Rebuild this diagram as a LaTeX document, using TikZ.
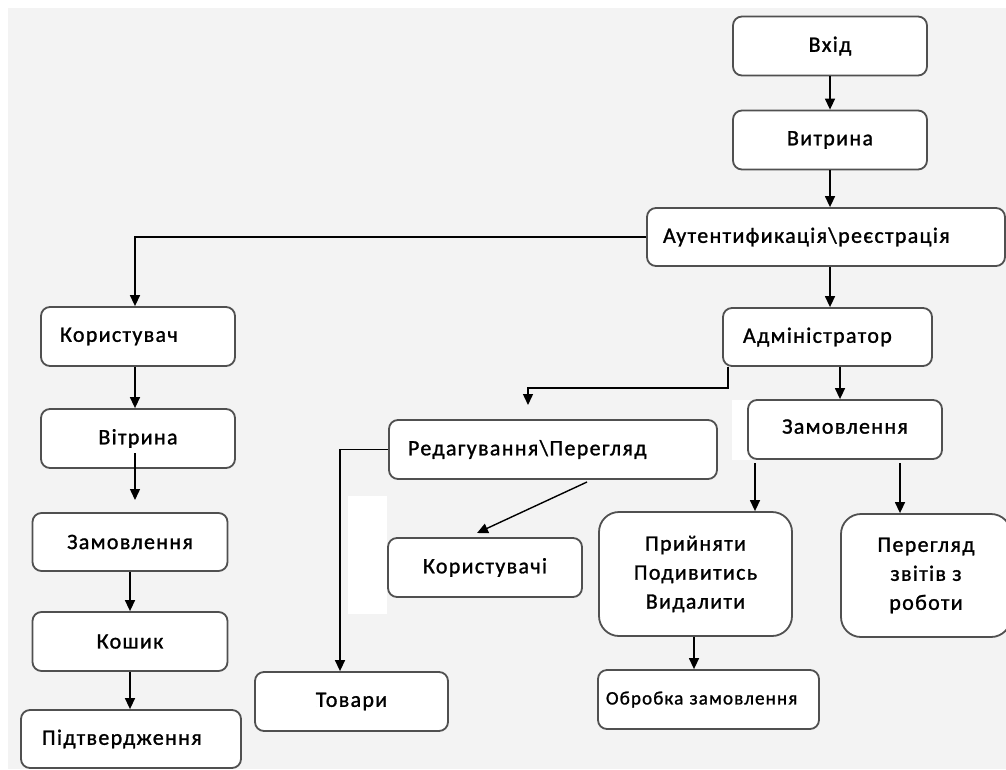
\documentclass[tikz,border=0pt]{standalone}
\usepackage{fontspec}
\setmainfont{Carlito}[LetterSpace=6, FakeBold=1.2]
\usetikzlibrary{arrows.meta}
\definecolor{bggray}{HTML}{F3F3F3}
\definecolor{boxline}{HTML}{505050}
\begin{document}
\begin{tikzpicture}[x=1pt,y=-1pt,
  box/.style={draw=boxline, line width=1.8pt, rounded corners=9pt, fill=white,
    inner sep=0pt, minimum height=59pt, font=\fontsize{22}{29}\selectfont, text=black},
  bigbox/.style={box, rounded corners=20pt},
  arr/.style={draw=black, line width=1.4pt, -{Triangle[width=10pt,length=11pt]}},
  patch/.style={fill=white, draw=none}]
\useasboundingbox (0,0) rectangle (1006,769);
\fill[white] (0,0) rectangle (1006,769);
\fill[bggray] (8,8) rectangle (1006,769);
% white patches
\fill[patch] (348,496) rectangle (387,614);
\fill[patch] (732,400) rectangle (750,460);

% top chain
\node[box, minimum width=194pt] (vhid) at (830,46) {Вхід};
\node[box, minimum width=194pt] (vitr) at (830,140) {Витрина};
\node[box, minimum width=358pt, text width=326pt, inner xsep=16pt, align=left, minimum height=58pt] (auth) at (826,237) {Аутентификація\textbackslash реєстрація};

% user branch
\node[box, minimum width=194pt, text width=156pt, inner xsep=19pt, align=left] (kor) at (138,336.5) {Користувач};
\node[box, minimum width=194pt] (vitrL) at (138,438.5) {Вітрина};
\node[box, minimum width=195pt, minimum height=58pt] (zamL) at (130,542) {Замовлення};
\node[box, minimum width=195pt] (kosh) at (130,641.5) {Кошик};
\node[box, minimum width=220pt, text width=178pt, inner xsep=21pt, align=left, minimum height=58pt] (pidt) at (131,739) {Підтвердження};

% admin branch
\node[box, minimum width=209pt, text width=169pt, inner xsep=20pt, align=left, minimum height=58pt] (adm) at (827.5,337) {Адміністратор};
\node[box, minimum width=328pt, text width=290pt, inner xsep=19pt, align=left] (red) at (553,449.5) {Редагування\textbackslash Перегляд};
\node[box, minimum width=194pt] (kor2) at (485,567.5) {Користувачі};
\node[box, minimum width=193pt] (tov) at (351.5,701.5) {Товари};
\node[box, minimum width=194pt, text depth=6pt] (zamR) at (845,429.5) {Замовлення};
\node[bigbox, minimum width=193pt, minimum height=124pt, align=center] (prin) at (695.5,574) {Прийняти\\Подивитись\\Видалити};
\node[bigbox, minimum width=170pt, minimum height=123pt, align=center] (pereg) at (926,575.5) {Перегляд\\звітів з\\роботи};
\node[box, minimum width=221pt, text width=205pt, inner xsep=8pt, align=left, font=\fontsize{19}{22}\selectfont] (obr) at (708.5,699.5) {Обробка замовлення};

% helper coordinates
\coordinate (xL) at (135,0);
\coordinate (xM) at (830,0);
\coordinate (vl1) at (135,453);
\coordinate (vl2) at (135,500);
\coordinate (ac) at (728,388);
\coordinate (redin) at (528,405);
\coordinate (x840) at (840,0);
\coordinate (x340) at (340,0);
\coordinate (k1) at (587,482);
\coordinate (k2) at (477,533);
\coordinate (z1) at (755,463);
\coordinate (z2) at (900,463);
\coordinate (x694) at (694,0);

% connectors
\draw[arr] (vhid.south -| xM) -- (vitr.north -| xM);
\draw[arr] (vitr.south -| xM) -- (auth.north -| xM);
\draw[arr] (auth.west) -| (kor.north -| xL);
\draw[arr] (kor.south -| xL) -- (vitrL.north -| xL);
\draw[arr] (vl1) -- (vl2);
\draw[arr] (zamL.south) -- (kosh.north);
\draw[arr] (kosh.south) -- (kosh.south |- pidt.north);
\draw[arr] (auth.south -| xM) -- (adm.north -| xM);
\draw[arr] (adm.south -| ac) -- (ac) -| (redin);
\draw[arr] (adm.south -| x840) -- (zamR.north -| x840);
\draw[arr] (red.west) -- (red.west -| x340) -- (tov.north -| x340);
\draw[arr] (k1) -- (k2);
\draw[arr] (z1) -- (z1 |- prin.north);
\draw[arr] (z2) -- (z2 |- pereg.north);
\draw[arr] (prin.south -| x694) -- (obr.north -| x694);
\end{tikzpicture}
\end{document}
